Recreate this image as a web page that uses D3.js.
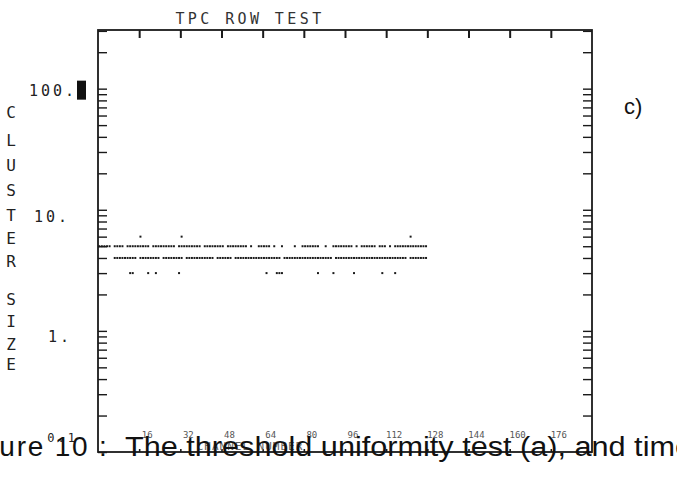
<!DOCTYPE html>
<html>
<head>
<meta charset="utf-8">
<script src="https://cdn.jsdelivr.net/npm/d3@7"></script>
<style>
  body { margin: 0; background: #fff; }
  svg { display: block; }
  .mono { font-family: "DejaVu Sans Mono", "Liberation Mono", monospace; }
  .cap { font-family: "Liberation Sans", Arial, sans-serif; }
</style>
</head>
<body>
<svg id="chart" width="677" height="495"></svg>
<script>
// Channel axis: 0..192 channels, ticks every 16
const channelDomain = [0, 192];
const channelTicks = [16, 32, 48, 64, 80, 96, 112, 128, 144, 160, 176];
const channelTickText = ["16", "32", "48", "64", "80", "96", "112", "128", "144", "160", "176"];

// Cluster-size axis (log)
const sizeDomain = [0.1, 305];
const sizeLabelValues = [100, 10, 1, 0.1];
const sizeLabelText = ["100.", "10.", "1.", "0.1"];

// Channels recording each cluster size
const size6Channels = [16, 32, 121];
const size5Channels = [
  0, 1, 2, 3, 4, 6, 7, 8, 9, 11, 12, 13, 14, 15, 16, 17, 18, 19,
  21, 22, 23, 24, 25, 26, 27, 28, 29, 31, 32, 33, 34, 35, 36, 37, 38, 39,
  41, 42, 43, 44, 45, 46, 47, 48, 50, 51, 52, 53, 54, 55, 56, 57, 59,
  62, 63, 64, 65, 66, 68, 71, 76, 79, 80, 81, 82, 83, 84, 85, 88,
  91, 92, 93, 94, 95, 96, 97, 98, 100, 102, 103, 104, 105, 106, 107,
  109, 110, 111, 113, 115, 116, 117, 118, 119, 120, 121, 122, 123, 124, 125, 126, 127
];
const size4Channels = [
  6, 7, 8, 9, 10, 11, 12, 13, 14, 16, 17, 18, 19, 20, 21, 22, 23, 25, 26, 27,
  28, 29, 30, 31, 32, 34, 35, 36, 37, 38, 39, 40, 41, 42, 43, 44, 46, 47, 48,
  49, 50, 51, 53, 54, 55, 56, 57, 58, 59, 60, 61, 62, 63, 64, 65, 66, 67, 68,
  69, 70, 72, 73, 74, 75, 76, 77, 78, 79, 80, 81, 82, 83, 84, 85, 86, 87, 88,
  89, 90, 92, 93, 94, 95, 96, 97, 98, 99, 100, 101, 102, 103, 104, 105, 106,
  107, 108, 109, 110, 111, 112, 113, 114, 115, 116, 117, 118, 119, 121, 122,
  123, 124, 125, 126, 127
];
const size3Channels = [12, 13, 19, 22, 31, 65, 69, 70, 71, 85, 91, 99, 110, 115];

const rows = [
  { size: 6, channels: size6Channels },
  { size: 5, channels: size5Channels },
  { size: 4, channels: size4Channels },
  { size: 3, channels: size3Channels }
];

const svg = d3.select("#chart");
const ink = "#1a1a1a";
const plot = { left: 98, right: 592, top: 30, bottom: 452 };

const x = d3.scaleLinear().domain(channelDomain).range([plot.left, plot.right]);
const y = d3.scaleLog().domain(sizeDomain).range([plot.bottom, plot.top]);

// every 1..9 x 10^n tick inside the domain
const logTicks = [];
for (let e = -1; e <= 2; e++) {
  for (let k = 1; k <= 9; k++) {
    const v = k * Math.pow(10, e);
    if (v >= sizeDomain[0] && v <= sizeDomain[1]) logTicks.push(v);
  }
}

function styleAxis(g, width) {
  g.select(".domain").remove();
  g.selectAll("line").attr("stroke", ink).attr("stroke-width", width);
}

// Left and right log axes, ticks turned inward
svg.append("g")
  .attr("transform", `translate(${plot.left},0)`)
  .call(d3.axisLeft(y).tickValues(logTicks).tickSize(-9).tickFormat(""))
  .call(g => styleAxis(g, 1.4));
svg.append("g")
  .attr("transform", `translate(${plot.right},0)`)
  .call(d3.axisRight(y).tickValues(logTicks).tickSize(-9).tickFormat(""))
  .call(g => styleAxis(g, 1.4));

// Top and bottom channel axes
svg.append("g")
  .attr("transform", `translate(0,${plot.top})`)
  .call(d3.axisTop(x).tickValues(channelTicks).tickSize(-8).tickFormat(""))
  .call(g => styleAxis(g, 2));
svg.append("g")
  .attr("transform", `translate(0,${plot.bottom})`)
  .call(d3.axisBottom(x).tickValues(channelTicks).tickSize(-3).tickFormat(""))
  .call(g => styleAxis(g, 1.6));

// Frame
svg.append("rect")
  .attr("x", plot.left).attr("y", plot.top)
  .attr("width", plot.right - plot.left).attr("height", plot.bottom - plot.top)
  .attr("fill", "none").attr("stroke", ink).attr("stroke-width", 1.8);

// Cluster-size marks, one short dash per channel
const colW = x(1) - x(0);
rows.forEach(r => {
  svg.append("g").selectAll("rect")
    .data(r.channels)
    .join("rect")
    .attr("x", d => x(d) + 0.3)
    .attr("y", y(r.size) - 1)
    .attr("width", colW - 0.6)
    .attr("height", 2)
    .attr("fill", ink);
});

// Y tick labels
const labelRight = [77, 70, 72, 78];
const labelDy = [7, 12, 11, -10];
const labelSize = [15, 15, 15, 12];
svg.append("g").attr("class", "mono")
  .selectAll("text")
  .data(sizeLabelValues)
  .join("text")
  .attr("x", (d, i) => labelRight[i])
  .attr("y", (d, i) => y(d) + labelDy[i])
  .attr("text-anchor", "end")
  .attr("font-size", (d, i) => labelSize[i])
  .attr("letter-spacing", 3)
  .attr("fill", "#222")
  .text((d, i) => sizeLabelText[i]);

// marker block after the top label
svg.append("rect")
  .attr("x", 77).attr("y", y(100) - 8)
  .attr("width", 9).attr("height", 19)
  .attr("fill", "#111");

// Vertical axis title, letters stacked
const yTitle = "CLUSTER SIZE".split("");
const letterY = [112, 140, 165, 190, 215, 238, 261, null, 299, 321, 344, 364];
svg.append("g").attr("class", "mono")
  .selectAll("text")
  .data(yTitle.map((c, i) => ({ c, yy: letterY[i] })).filter(d => d.yy !== null))
  .join("text")
  .attr("x", 11)
  .attr("y", d => d.yy + 6)
  .attr("text-anchor", "middle")
  .attr("font-size", 16)
  .attr("fill", "#222")
  .text(d => d.c);

// Plot title
svg.append("text").attr("class", "mono")
  .attr("x", 250).attr("y", 24)
  .attr("text-anchor", "middle")
  .attr("font-size", 15)
  .attr("letter-spacing", 3.4)
  .attr("fill", "#333")
  .text("TPC ROW TEST");

// Channel tick labels and axis title
svg.append("g").attr("class", "mono")
  .selectAll("text")
  .data(channelTicks)
  .join("text")
  .attr("x", d => x(d) + 8)
  .attr("y", 438)
  .attr("text-anchor", "middle")
  .attr("font-size", 9)
  .attr("fill", "#555")
  .text((d, i) => channelTickText[i]);
svg.append("text").attr("class", "mono")
  .attr("x", 250).attr("y", 450)
  .attr("text-anchor", "middle")
  .attr("font-size", 11)
  .attr("letter-spacing", 1)
  .attr("fill", "#666")
  .text("CHANNEL NUMBER");

// Panel tag
svg.append("text").attr("class", "cap")
  .attr("x", 624).attr("y", 114)
  .attr("font-size", 22)
  .attr("fill", "#111")
  .text("c)");

// Figure caption running under the axis
svg.append("text").attr("class", "cap")
  .attr("x", -45).attr("y", 456)
  .attr("font-size", 28)
  .attr("letter-spacing", 1.8)
  .attr("fill", "#111")
  .text("Figure 10 :");
svg.append("text").attr("class", "cap")
  .attr("x", 125).attr("y", 456)
  .attr("font-size", 27)
  .attr("textLength", 567)
  .attr("lengthAdjust", "spacingAndGlyphs")
  .attr("fill", "#111")
  .text("The threshold uniformity test (a), and time");
</script>
</body>
</html>
